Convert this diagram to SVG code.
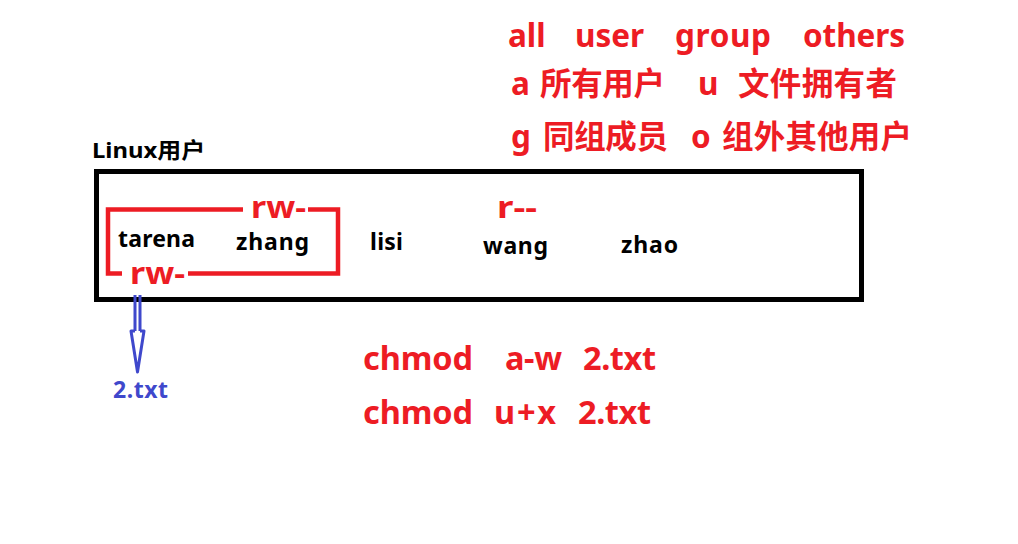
<svg xmlns="http://www.w3.org/2000/svg" width="1018" height="544" viewBox="0 0 1018 544">
<style>
text{font-family:"Noto Sans","Noto Sans CJK SC",sans-serif;font-weight:bold}
.red{fill:#ED1C24}
.blk{fill:#000}
.big{font-size:31.5px}
.cmd{font-size:32.5px}
.mid{font-size:31px}
.sm{font-size:23px}
.blue{fill:#3F48CC}
</style>
<rect width="1018" height="544" fill="#fff"/>
<g id="legend">
<text class="red big" x="508" y="47">all</text>
<text class="red big" x="575" y="47">user</text>
<text class="red big" x="675" y="47" textLength="96">group</text>
<text class="red big" x="803" y="47" textLength="102">others</text>
<text class="red big" x="511" y="95">a</text>
<text class="red big" x="540" y="95" textLength="125">所有用户</text>
<text class="red big" x="698" y="95">u</text>
<text class="red big" x="738" y="95" textLength="159">文件拥有者</text>
<text class="red big" x="511" y="148">g</text>
<text class="red big" x="543" y="148" textLength="125">同组成员</text>
<text class="red big" x="691" y="148">o</text>
<text class="red big" x="722" y="148" textLength="190">组外其他用户</text>
</g>
<g id="linux-users">
<text class="blk" x="92" y="158" font-size="22" textLength="113" lengthAdjust="spacingAndGlyphs">Linux用户</text>
<rect x="96.5" y="171.5" width="765" height="128" fill="none" stroke="#000" stroke-width="5"/>
</g>
<g id="group-bracket">
<path d="M243 209.5H108V273.5H122M188 273.5H338V209.5H308" fill="none" stroke="#ED1C24" stroke-width="4.5"/>
<text class="red mid" x="251" y="218" textLength="55" lengthAdjust="spacingAndGlyphs">rw-</text>
<text class="red mid" x="130" y="284" textLength="55" lengthAdjust="spacingAndGlyphs">rw-</text>
</g>
<g id="user-tarena"><text class="blk sm" x="118" y="247" textLength="77">tarena</text></g>
<g id="user-zhang"><text class="blk sm" x="236" y="250" textLength="73">zhang</text></g>
<g id="user-lisi"><text class="blk sm" x="370" y="250" textLength="33">lisi</text></g>
<g id="user-wang"><text class="blk sm" x="483" y="254" textLength="65">wang</text></g>
<g id="user-zhao"><text class="blk sm" x="621" y="253" textLength="57">zhao</text></g>
<g id="others-perm"><text class="red mid" x="497" y="218" textLength="40" lengthAdjust="spacingAndGlyphs">r--</text></g>
<g id="connectors">
<path d="M135 295V331M140 295V331M135 331H131L137.5 372L144 331H140" fill="none" stroke="#3F48CC" stroke-width="3" stroke-linejoin="round"/>
</g>
<g id="file"><text class="blue" x="113" y="398" font-size="23" textLength="55">2.txt</text></g>
<g id="commands">
<text class="red cmd" x="363" y="370" textLength="110">chmod</text>
<text class="red cmd" x="505" y="370" textLength="57">a-w</text>
<text class="red cmd" x="583" y="370" textLength="73">2.txt</text>
<text class="red cmd" x="363" y="424" textLength="110">chmod</text>
<text class="red cmd" x="494" y="424" textLength="62">u+x</text>
<text class="red cmd" x="578" y="424" textLength="73">2.txt</text>
</g>
</svg>
